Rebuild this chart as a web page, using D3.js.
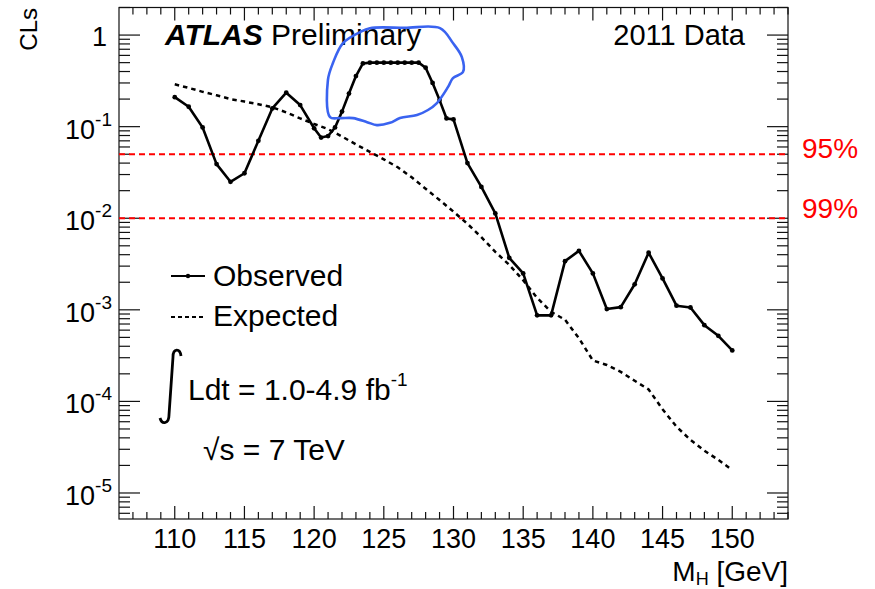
<!DOCTYPE html>
<html>
<head>
<meta charset="utf-8">
<script src="https://cdn.jsdelivr.net/npm/d3@7/dist/d3.min.js"></script>
<style>
  html, body { margin: 0; padding: 0; background: #fff; }
  svg { display: block; font-family: "Liberation Sans", Arial, Helvetica, sans-serif; }
</style>
</head>
<body>
<svg id="chart" width="875" height="589"></svg>
<script>
// ---------------- DATA ----------------
const obsMass = [110,111,112,113,114,115,116,117,118,119,120,120.5,121,121.5,122,122.5,123,123.5,124,124.5,125,125.5,126,126.5,127,127.5,128,128.5,129,129.5,130,131,132,133,134,135,136,137,138,139,140,141,142,143,144,145,146,147,148,149,150];
const obsCLs  = [0.21,0.165,0.098,0.039,0.025,0.031,0.070,0.158,0.235,0.172,0.096,0.076,0.079,0.098,0.146,0.23,0.357,0.49,0.50,0.50,0.50,0.50,0.50,0.50,0.50,0.50,0.44,0.30,0.195,0.123,0.12,0.040,0.022,0.0113,0.0037,0.0025,0.00087,0.00087,0.0034,0.0044,0.0025,0.00102,0.00107,0.0019,0.0042,0.0022,0.00111,0.00106,0.00068,0.00052,0.00036];
const expMass = [110,111,112,113,114,115,116,117,118,119,120,121,122,123,124,125,126,127,128,129,130,131,132,133,134,135,136,137,138,139,140,141,142,143,144,145,146,147,148,149,150];
const expCLs  = [0.29,0.265,0.24,0.22,0.20,0.188,0.176,0.163,0.143,0.123,0.107,0.094,0.078,0.064,0.053,0.044,0.036,0.028,0.021,0.0158,0.0118,0.0087,0.0062,0.0043,0.0031,0.0021,0.00135,0.00095,0.00078,0.00049,0.00028,0.00025,0.00021,0.000168,0.000135,0.000082,0.000053,0.000038,0.000029,0.000023,0.0000178];
const clLevels = [0.05, 0.01];
const clLabels = ["95%", "99%"];
const xTickLabels = [110,115,120,125,130,135,140,145,150];
const yTickExps = [0,-1,-2,-3,-4,-5];
// hand-drawn blue annotation outline (in data units: mass, CLs)
const blueMass = [121.14,120.99,121.35,122.07,123.29,124.0,126.5,129.03,129.96,130.6,130.68,129.96,129.6,128.81,128.17,127.38,126.16,125.44,124.5,123.8,122.8,121.86];
const blueCLs  = [0.127,0.323,0.495,0.818,1.078,1.19,1.20,1.19,0.818,0.575,0.395,0.339,0.27,0.181,0.152,0.134,0.124,0.11,0.104,0.112,0.124,0.124];

// ---------------- LAYOUT ----------------
const L = 119, R = 788, T = 7.5, B = 519;
const svg = d3.select("#chart");
const x = d3.scaleLinear().domain([106, 154]).range([L, R]);
const y = d3.scaleLog().domain([5.2e-6, 2]).range([B, T]);

// frame
svg.append("rect").attr("x", L).attr("y", T).attr("width", R - L).attr("height", B - T)
  .attr("fill", "none").attr("stroke", "#111").attr("stroke-width", 1.2);

// x ticks (bottom and top)
const xt = svg.append("g").attr("stroke", "#111").attr("stroke-width", 1.2);
for (let m = 107; m <= 154; m++) {
  const major = (m % 5 === 0);
  const len = major ? 13 : 7;
  xt.append("line").attr("x1", x(m)).attr("x2", x(m)).attr("y1", B).attr("y2", B - len);
  xt.append("line").attr("x1", x(m)).attr("x2", x(m)).attr("y1", T).attr("y2", T + len);
}
// y ticks (left and right)
const yt = svg.append("g").attr("stroke", "#111").attr("stroke-width", 1.2);
const [ymin, ymax] = y.domain();
for (let d = -6; d <= 0; d++) {
  for (let k = 1; k <= 9; k++) {
    const v = k * Math.pow(10, d);
    if (v < ymin || v > ymax) continue;
    const len = k === 1 ? 21 : 11;
    yt.append("line").attr("x1", L).attr("x2", L + len).attr("y1", y(v)).attr("y2", y(v));
    yt.append("line").attr("x1", R).attr("x2", R - len).attr("y1", y(v)).attr("y2", y(v));
  }
}

// x tick labels
svg.append("g").selectAll("text").data(xTickLabels).join("text")
  .attr("x", d => x(d)).attr("y", 548).attr("text-anchor", "middle")
  .attr("font-size", 27).attr("fill", "#000").text(d => d);

// y tick labels
yTickExps.forEach(e => {
  const yy = y(Math.pow(10, e));
  if (e === 0) {
    svg.append("text").attr("x", 107).attr("y", yy + 11).attr("text-anchor", "end")
      .attr("font-size", 27).text("1");
  } else {
    const t = svg.append("text").attr("x", 112).attr("y", yy + 12).attr("text-anchor", "end")
      .attr("font-size", 27);
    t.append("tspan").text("10");
    t.append("tspan").attr("font-size", 19).attr("dy", -13).text(String(e));
  }
});

// axis titles
svg.append("text").attr("transform", "translate(37,8) rotate(-90)").attr("text-anchor", "end")
  .attr("font-size", 24).text("CLs");
const xtitle = svg.append("text").attr("x", 788).attr("y", 581).attr("text-anchor", "end").attr("font-size", 28);
xtitle.append("tspan").text("M");
xtitle.append("tspan").attr("font-size", 18).attr("dy", 4).text("H");
xtitle.append("tspan").attr("dy", -4).text(" [GeV]");

// CL lines
svg.append("g").selectAll("line").data(clLevels).join("line")
  .attr("x1", L).attr("x2", R).attr("y1", d => y(d)).attr("y2", d => y(d))
  .attr("stroke", "#ff0000").attr("stroke-width", 2).attr("stroke-dasharray", "6,4");
svg.append("g").selectAll("text").data(clLevels).join("text")
  .attr("x", 802).attr("y", (d, i) => i === 0 ? y(d) + 4 : y(d)).attr("font-size", 28)
  .attr("fill", "#ff0000").text((d, i) => clLabels[i]);

// expected
const line = d3.line().x(d => x(d[0])).y(d => y(d[1]));
svg.append("path").datum(expMass.map((m, i) => [m, expCLs[i]]))
  .attr("d", line).attr("fill", "none").attr("stroke", "#000").attr("stroke-width", 2.5)
  .attr("stroke-dasharray", "4.5,4");

// observed
const obs = obsMass.map((m, i) => [m, obsCLs[i]]);
svg.append("path").datum(obs).attr("d", line).attr("fill", "none")
  .attr("stroke", "#000").attr("stroke-width", 2.6).attr("stroke-linejoin", "round");
svg.append("g").selectAll("circle").data(obs).join("circle")
  .attr("cx", d => x(d[0])).attr("cy", d => y(d[1])).attr("r", 2.4).attr("fill", "#000");

// texts
const atl = svg.append("text").attr("x", 165).attr("y", 45).attr("font-size", 30);
atl.append("tspan").attr("font-weight", "bold").attr("font-style", "italic").text("ATLAS");
atl.append("tspan").text(" Preliminary");
svg.append("text").attr("x", 745).attr("y", 45).attr("text-anchor", "end").attr("font-size", 29).text("2011 Data");

// legend
svg.append("line").attr("x1", 171).attr("x2", 205).attr("y1", 276).attr("y2", 276)
  .attr("stroke", "#000").attr("stroke-width", 2);
svg.append("circle").attr("cx", 188).attr("cy", 276).attr("r", 2.2).attr("fill", "#000");
svg.append("text").attr("x", 213).attr("y", 286).attr("font-size", 30).text("Observed");
svg.append("line").attr("x1", 171).attr("x2", 205).attr("y1", 317).attr("y2", 317)
  .attr("stroke", "#000").attr("stroke-width", 2).attr("stroke-dasharray", "4,3");
svg.append("text").attr("x", 213).attr("y", 326).attr("font-size", 30).text("Expected");

// luminosity
svg.append("path").attr("d", "M181,356 C180,348 173,348 173,357 L169,415 C169,424 162,425 160,418")
  .attr("fill", "none").attr("stroke", "#000").attr("stroke-width", 2.8);
const lum = svg.append("text").attr("x", 188).attr("y", 400).attr("font-size", 30);
lum.append("tspan").text("Ldt = 1.0-4.9 fb");
lum.append("tspan").attr("font-size", 19).attr("dy", -14).text("-1");
svg.append("text").attr("x", 203).attr("y", 460).attr("font-size", 30).text("\u221As = 7 TeV");

// blue annotation
svg.append("path").datum(blueMass.map((m, i) => [m, blueCLs[i]]))
  .attr("d", d3.line().x(d => x(d[0])).y(d => y(d[1])).curve(d3.curveCatmullRomClosed))
  .attr("fill", "none").attr("stroke", "#3a63f0").attr("stroke-width", 2.6);
</script>
</body>
</html>
